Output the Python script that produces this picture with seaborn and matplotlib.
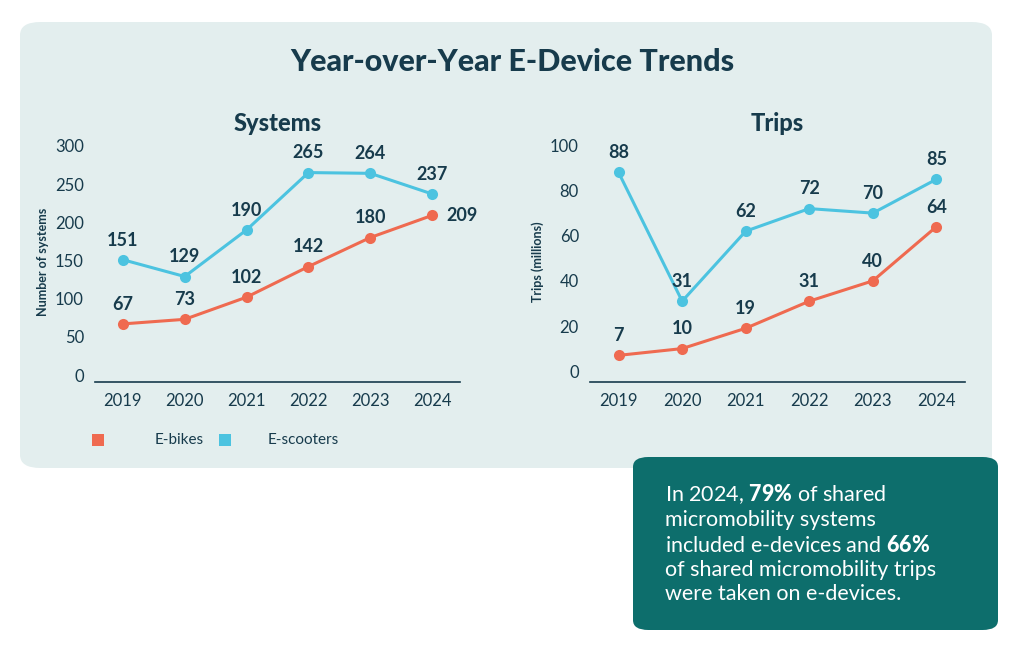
import matplotlib
matplotlib.use("Agg")
import matplotlib.pyplot as plt
import seaborn as sns
import pandas as pd
from matplotlib.patches import FancyBboxPatch

years = ["2019", "2020", "2021", "2022", "2023", "2024"]
sys_ebikes = [67, 73, 102, 142, 180, 209]
sys_escooters = [151, 129, 190, 265, 264, 237]
trips_ebikes = [7, 10, 19, 31, 40, 64]
trips_escooters = [88, 31, 62, 72, 70, 85]

ORANGE = "#ef6a50"
CYAN = "#4cc3e0"
NAVY = "#173b4c"
PANEL = "#e3eeee"
TEAL = "#0d6e6c"

sns.set_theme(style="white")
plt.rcParams['font.family'] = ['Lato', 'DejaVu Sans']
plt.rcParams['mathtext.fontset'] = 'custom'
plt.rcParams['mathtext.bf'] = 'Lato:black'
plt.rcParams['mathtext.rm'] = 'Lato'

fig = plt.figure(figsize=(10.24, 6.59), dpi=100)
fig.patch.set_facecolor("white")
panel = FancyBboxPatch((20/1024, 1-468/659), 972/1024, 446/659,
                       boxstyle="round,pad=0,rounding_size=0.02", transform=fig.transFigure,
                       facecolor=PANEL, edgecolor="none", zorder=-5)
fig.patches.append(panel)
box = FancyBboxPatch((633/1024, 1-630/659), 365/1024, 173/659,
                     boxstyle="round,pad=0,rounding_size=0.015", transform=fig.transFigure,
                     facecolor=TEAL, edgecolor="none", zorder=-5)
fig.patches.append(box)

fig.text(0.5, 1-62/659, "Year-over-Year E-Device Trends", ha="center", va="center",
         fontsize=22, fontweight="black", color=NAVY)

def draw(ax, eb, es, ylim, yticks, ylabel, title, lab_off, skip_last_eb=False):
    ax.set_zorder(5)
    ax.set_facecolor("none")
    df = pd.DataFrame({"year": years * 2, "val": eb + es,
                       "kind": ["E-bikes"] * 6 + ["E-scooters"] * 6})
    sns.lineplot(data=df, x="year", y="val", hue="kind", palette=[ORANGE, CYAN],
                 marker="o", markersize=8, markeredgewidth=0, linewidth=2.2, ax=ax, legend=False)
    for i, (a, b) in enumerate(zip(eb, es)):
        if not (skip_last_eb and i == 5):
            ax.annotate(str(a), (i, a), xytext=(0, lab_off), textcoords="offset points",
                        ha="center", va="bottom", fontsize=13, fontweight="bold", color=NAVY)
        ax.annotate(str(b), (i, b), xytext=(0, lab_off), textcoords="offset points",
                    ha="center", va="bottom", fontsize=13, fontweight="bold", color=NAVY)
    ax.set_ylim(*ylim)
    ax.set_xlim(-0.45, 5.45)
    ax.set_yticks(yticks)
    ax.tick_params(axis="both", length=0, labelsize=12, colors=NAVY, pad=8)
    ax.set_xlabel("")
    ax.set_ylabel(ylabel, fontsize=9, fontweight="bold", color=NAVY)
    for s in ["top", "right", "left"]:
        ax.spines[s].set_visible(False)
    ax.spines["bottom"].set_color(NAVY)
    ax.spines["bottom"].set_linewidth(1.2)
    ax.set_title(title, fontsize=17, fontweight="black", color=NAVY, pad=8)

ax1 = fig.add_axes([95/1024, 1-382/659, 365/1024, 240/659])
draw(ax1, sys_ebikes, sys_escooters, (-9, 305), [0, 50, 100, 150, 200, 250, 300],
     "Number of systems", "Systems", 8, skip_last_eb=True)
ax1.annotate(str(sys_ebikes[5]), (5, sys_ebikes[5]), xytext=(10, 0), textcoords="offset points",
             ha="left", va="center", fontsize=13, fontweight="bold", color=NAVY)

ax2 = fig.add_axes([590/1024, 1-382/659, 375/1024, 240/659])
draw(ax2, trips_ebikes, trips_escooters, (-4.8, 101.5), [0, 20, 40, 60, 80, 100],
     "Trips (millions)", "Trips", 8)

# legend
fig.patches.append(FancyBboxPatch((92/1024, 1-446/659), 12/1024, 12/659, boxstyle="square,pad=0",
                                  transform=fig.transFigure, facecolor=ORANGE, edgecolor="none"))
fig.text(155/1024, 1-440/659, "E-bikes", fontsize=11, color=NAVY, va="center")
fig.patches.append(FancyBboxPatch((219/1024, 1-446/659), 12/1024, 12/659, boxstyle="square,pad=0",
                                  transform=fig.transFigure, facecolor=CYAN, edgecolor="none"))
fig.text(268/1024, 1-440/659, "E-scooters", fontsize=11, color=NAVY, va="center")

fig.text(665/1024, 1-543/659,
         "In 2024, $\\bf{79\\%}$ of shared\nmicromobility systems\nincluded e-devices and $\\bf{66\\%}$\nof shared micromobility trips\nwere taken on e-devices.",
         fontsize=15.5, color="white", va="center", ha="left", linespacing=1.25)

fig.savefig("out.png", dpi=100, facecolor="white")
